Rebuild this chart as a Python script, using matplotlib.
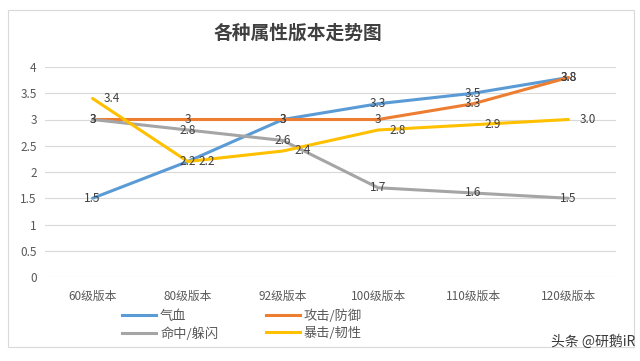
import matplotlib
matplotlib.use("Agg")
import matplotlib.pyplot as plt
from matplotlib.patches import Rectangle
from matplotlib.lines import Line2D

plt.rcParams['font.family'] = ['Noto Sans CJK SC', 'DejaVu Sans']

# ── data ─────────────────────────────────────────────────────────────────────
versions = ['60级版本', '80级版本', '92级版本', '100级版本', '110级版本', '120级版本']
hp       = [1.5, 2.2, 3.0, 3.3, 3.5, 3.8]   # 气血
atk_def  = [3.0, 3.0, 3.0, 3.0, 3.3, 3.8]   # 攻击/防御
hit_dodge = [3.0, 2.8, 2.6, 1.7, 1.6, 1.5]  # 命中/躲闪
crit_tough = [3.4, 2.2, 2.4, 2.8, 2.9, 3.0]  # 暴击/韧性

series = [
    ('气血',      hp,         '#5B9BD5', 'center', '{:g}'),
    ('攻击/防御', atk_def,    '#ED7D31', 'center', '{:g}'),
    ('命中/躲闪', hit_dodge,  '#A5A5A5', 'center', '{:g}'),
    ('暴击/韧性', crit_tough, '#FFC000', 'right',  '{:.1f}'),
]

fig = plt.figure(figsize=(6.4, 3.61), dpi=100, facecolor='white')

# light frame round the chart
fig.patches.append(Rectangle((8 / 640, 1 - 347 / 361), 626 / 640, 337 / 361,
                             transform=fig.transFigure, fill=False,
                             edgecolor='#D9D9D9', linewidth=0.8))

ax = fig.add_axes([45 / 640, 1 - 277 / 361, 571 / 640, 210 / 361])
x = list(range(len(versions)))

for name, vals, color, pos, fmt in series:
    ax.plot(x, vals, color=color, linewidth=2.2, label=name,
            solid_capstyle='round', zorder=3)

# data labels after lines so they sit on top
for name, vals, color, pos, fmt in series:
    for xi, v in zip(x, vals):
        if pos == 'right':
            ax.annotate(fmt.format(v), (xi, v), xytext=(8, 0),
                        textcoords='offset points', ha='left', va='center',
                        fontsize=8.5, color='#404040', zorder=4)
        else:
            ax.annotate(fmt.format(v), (xi, v), xytext=(0, 0),
                        textcoords='offset points', ha='center', va='center',
                        fontsize=8.5, color='#404040', zorder=4)

ax.set_xlim(-0.5, 5.5)
ax.set_ylim(0, 4)
ax.set_yticks([0, 0.5, 1, 1.5, 2, 2.5, 3, 3.5, 4])
ax.set_yticklabels(['0', '0.5', '1', '1.5', '2', '2.5', '3', '3.5', '4'])
ax.set_xticks(x)
ax.set_xticklabels(versions)
ax.tick_params(axis='both', length=0, labelsize=8.5, labelcolor='#595959')
ax.tick_params(axis='x', pad=9)
ax.tick_params(axis='y', pad=6)
ax.grid(True, axis='y', color='#D9D9D9', linewidth=0.8, zorder=0)
for s in ax.spines.values():
    s.set_visible(False)
ax.set_facecolor('none')

fig.text(298 / 640, 1 - 33 / 361, '各种属性版本走势图', ha='center', va='center',
         fontsize=13.5, fontweight='bold', color='#404040')

# legend: two rows, two columns
handles = [Line2D([], [], color=c, linewidth=2.2) for _, _, c, _, _ in series]
labels = [s[0] for s in series]
order = [0, 2, 1, 3]
fig.legend([handles[i] for i in order], [labels[i] for i in order],
           ncol=2, loc='center', bbox_to_anchor=(242 / 640, 1 - 325 / 361),
           frameon=False, fontsize=9.5, handlelength=2.6, handletextpad=0.3,
           columnspacing=3.6, labelspacing=0.3, labelcolor='#595959')

fig.text(635 / 640, 1 - 342 / 361, '头条 @研鹅iR', ha='right', va='center',
         fontsize=10, color='#3a3a3a')

fig.savefig('out.png', dpi=100, facecolor='white')
